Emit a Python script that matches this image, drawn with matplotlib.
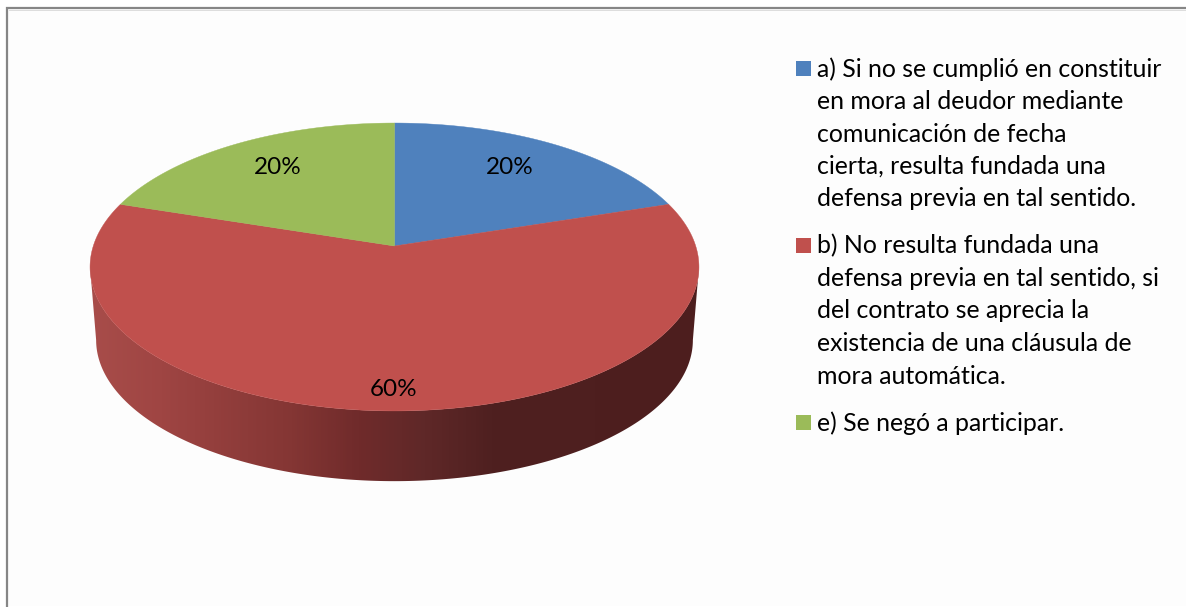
import numpy as np
import matplotlib.pyplot as plt
from matplotlib.colors import LinearSegmentedColormap
from matplotlib.patches import Polygon, Rectangle

# Pie values and legend text
values = [20, 60, 20]
legend_lines = [
    ['a) Si no se cumplió en constituir', 'en mora al deudor mediante',
     'comunicación de fecha', 'cierta, resulta fundada una',
     'defensa previa en tal sentido.'],
    ['b) No resulta fundada una', 'defensa previa en tal sentido, si',
     'del contrato se aprecia la', 'existencia de una cláusula de',
     'mora automática.'],
    ['e) Se negó a participar.'],
]
colors = ['#4F81BD', '#C0504D', '#9BBB59']

plt.rcParams['font.family'] = ['Lato', 'DejaVu Sans']

W, H = 1186, 607
fig = plt.figure(figsize=(W / 100, H / 100), dpi=100, facecolor='white')
ax = fig.add_axes([0, 0, 1, 1])
ax.set_xlim(0, W)
ax.set_ylim(H, 0)
ax.axis('off')

# Chart area with its grey frame on the top and left
ax.add_patch(Rectangle((8, 9), W - 8, H - 10, fc='#FDFDFD', ec='none', zorder=0))
ax.plot([7, 7, W], [H - 1, 8, 8], color='#868686', lw=1.6, zorder=1,
        solid_joinstyle='miter')
ax.plot([9, W], [9.6, 9.6], color='#DDDDDD', lw=0.7, zorder=1)

# Perspective projection of the pie disc
CX, CY = 394.5, 246.0
RX, RY = 301.2, 140.9
PERSP = 0.1458
DEPTH_Y = 73.5
BOTTOM_SCALE = 0.98


def project(theta, r=1.0, drop=0.0, scale=1.0):
    # theta runs clockwise from the back of the disc
    u = r * np.sin(theta)
    v = r * np.cos(theta)
    d = 1 + PERSP * v
    return CX + scale * RX * u / d, CY + drop - scale * RY * v / d


# Side wall: front arc of the top rim down to the bottom rim
t_wide = np.arccos(-PERSP)
t = np.linspace(t_wide, 2 * np.pi - t_wide, 400)
x_top, y_top = project(t)
x_bot, y_bot = project(t, drop=DEPTH_Y, scale=BOTTOM_SCALE)
wall_xy = np.column_stack([np.r_[x_top, x_bot[::-1]], np.r_[y_top, y_bot[::-1]]])
wall = Polygon(wall_xy, closed=True, fc='none', ec='none')
ax.add_patch(wall)

# Wall shading is darkest on the right, as if lit from the left
shade = LinearSegmentedColormap.from_list('wall', [
    (0.0, '#A84D4A'), (0.115, '#9F4543'), (0.33, '#843634'), (0.44, '#702B2B'),
    (0.55, '#5F2828'), (0.66, '#4F2020'), (1.0, '#4D1E1E')])
grad = ax.imshow(np.linspace(0, 1, 600)[None, :], cmap=shade, aspect='auto',
                 extent=(90, 699, 490, 260), zorder=2)
grad.set_clip_path(wall)
ax.set_xlim(0, W)
ax.set_ylim(H, 0)

# Top face, wedges go clockwise starting at twelve o'clock
edges = np.r_[0, np.cumsum(values)] / np.sum(values) * 2 * np.pi
for i, color in enumerate(colors):
    a = np.linspace(edges[i], edges[i + 1], 300)
    xs, ys = project(a)
    ax.fill(np.r_[CX, xs], np.r_[CY, ys], color=color, lw=0.3, zorder=3)

# Percentage labels
label_xy = [(510, 167), (394, 389), (278, 167)]
for v, (lx, ly) in zip(values, label_xy):
    ax.text(lx, ly, f'{v}%', fontsize=17.5, ha='center', va='center',
            color='black', zorder=4)

# Legend entries, drawn line by line
block_tops = [68, 245, 422.5]
LINE_STEP = 32.5
for color, lines, y0 in zip(colors, legend_lines, block_tops):
    ax.add_patch(Rectangle((796, y0 - 7.5), 15, 15, fc=color, ec='none', zorder=3))
    for k, line in enumerate(lines):
        ax.text(817, y0 + 1 + k * LINE_STEP, line, fontsize=17.9, ha='left',
                va='center', color='black', zorder=4)

fig.savefig('out.png', dpi=100)
